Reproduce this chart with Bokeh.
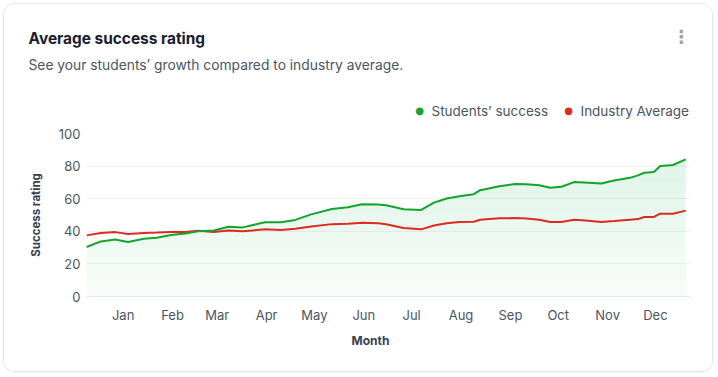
import numpy as np
import pandas as pd
from bokeh.plotting import figure
from bokeh.models import (Label, MonthsTicker, DatetimeTickFormatter, Range1d,
                          SingleIntervalTicker)
from bokeh.layouts import column
from bokeh.embed import file_html
from bokeh.resources import INLINE

# ---------------- data ----------------
dates = ["2022-12-09", "2022-12-18", "2022-12-27", "2023-01-04", "2023-01-14",
         "2023-01-22", "2023-01-31", "2023-02-09", "2023-02-17", "2023-02-27",
         "2023-03-08", "2023-03-17", "2023-03-31", "2023-04-10", "2023-04-19",
         "2023-04-29", "2023-05-12", "2023-05-22", "2023-05-31", "2023-06-10",
         "2023-06-15", "2023-06-26", "2023-07-07", "2023-07-15", "2023-07-23",
         "2023-07-31", "2023-08-09", "2023-08-13", "2023-08-25", "2023-09-04",
         "2023-09-11", "2023-09-19", "2023-09-26", "2023-10-03", "2023-10-11",
         "2023-10-20", "2023-10-28", "2023-11-05", "2023-11-15", "2023-11-20",
         "2023-11-24", "2023-11-30", "2023-12-04", "2023-12-12", "2023-12-20"]

students = [30.4, 33.8, 35.0, 33.5, 35.4, 36.0, 37.7, 38.7, 40.0, 40.5,
            42.8, 42.4, 45.5, 45.5, 47.0, 50.4, 53.7, 54.8, 56.6, 56.4,
            56.0, 53.5, 53.1, 57.6, 60.1, 61.5, 62.8, 65.2, 67.7, 69.0,
            68.8, 68.3, 66.7, 67.3, 70.2, 69.8, 69.3, 71.2, 72.8, 74.3,
            75.9, 76.4, 80.0, 80.7, 84.1]

industry = [37.5, 38.9, 39.5, 38.3, 39.0, 39.2, 39.5, 39.5, 40.3, 39.5,
            40.5, 40.0, 41.2, 40.8, 41.6, 42.9, 44.4, 44.6, 45.2, 44.9,
            44.3, 42.0, 41.2, 43.6, 44.9, 45.7, 45.9, 47.1, 48.0, 48.1,
            47.8, 47.1, 45.7, 45.7, 47.1, 46.5, 45.7, 46.3, 47.1, 47.5,
            48.8, 48.8, 50.8, 50.8, 52.7]

series_names = ["Students\u2019 success", "Industry Average"]
title_text = "Average success rating"
subtitle_text = "See your students\u2019 growth compared to industry average."
y_title = "Success rating"
x_title = "Month"

# ---------------- styles ----------------
GREEN = "#12a42c"
RED = "#dc2b1f"
TEXT = "#4b5563"
DARK = "#1a2030"
AXT = "#374151"
FONT = "Inter"
W = 708


def blank(height):
    f = figure(width=W, height=height, x_range=Range1d(0, W), y_range=Range1d(0, height),
               x_axis_type=None, y_axis_type=None, output_backend="svg",
               toolbar_location=None, min_border=0, frame_align=False)
    f.outline_line_color = None
    f.xgrid.visible = False
    f.ygrid.visible = False
    f.background_fill_color = "white"
    f.border_fill_color = "white"
    return f


def lab(f, xp, yp, text, size, color, style="normal", align="left", font=FONT):
    f.add_layout(Label(x=xp, y=yp, x_units="screen", y_units="screen", text=text,
                       text_font=font, text_font_size=size, text_color=color,
                       text_font_style=style, text_align=align,
                       text_baseline="middle"))


# ---------- header (page y 4..120) ----------
HH = 116
head = blank(HH)
lab(head, 24, 120 - 38, title_text, "15.4px", DARK, "bold")
lab(head, 24, 120 - 64, subtitle_text, "13.8px", TEXT)
lab(head, 677, 120 - 36, "\u22ee", "18px", "#9aa1ad", "bold", "center", "DejaVu Sans")
lab(head, 415, 120 - 110, "\u25cf", "10px", GREEN, align="center", font="DejaVu Sans")
lab(head, 427, 120 - 110, series_names[0], "13.5px", TEXT)
lab(head, 564, 120 - 110, "\u25cf", "10px", RED, align="center", font="DejaVu Sans")
lab(head, 576, 120 - 110, series_names[1], "13.5px", TEXT)

# ---------- chart (page y 120..326) ----------
x = pd.to_datetime(dates)
p = figure(width=W, height=206, x_axis_type="datetime",
           output_backend="svg", toolbar_location=None, frame_align=False,
           x_range=Range1d(pd.Timestamp("2022-12-09"), pd.Timestamp("2023-12-23")),
           y_range=Range1d(0, 100),
           min_border_left=82, min_border_right=22,
           min_border_top=13, min_border_bottom=30)
p.outline_line_color = None
p.background_fill_color = "white"
p.border_fill_color = "white"

# vertical gradient under the students' line (darker towards the top)
s = np.array(students)
p.varea(x=x, y1=np.zeros_like(s), y2=s, fill_color=GREEN, fill_alpha=0.035)
for level in range(10, 90, 10):
    p.varea(x=x, y1=np.minimum(s, level), y2=s, fill_color=GREEN, fill_alpha=0.011)

p.line(x, industry, line_color=RED, line_width=2)
p.line(x, students, line_color=GREEN, line_width=2)

p.xaxis.ticker = MonthsTicker(months=list(range(1, 13)))
p.xaxis.formatter = DatetimeTickFormatter(months="%b", days="%b")
p.yaxis.ticker = SingleIntervalTicker(interval=20)
for ax in (p.xaxis[0], p.yaxis[0]):
    ax.major_tick_line_color = None
    ax.minor_tick_line_color = None
    ax.major_tick_out = 0
    ax.major_tick_in = 0
    ax.minor_tick_out = 0
    ax.major_label_text_font = FONT
    ax.major_label_text_font_size = "13px"
    ax.major_label_text_color = TEXT
p.yaxis.axis_line_color = None
p.xaxis.axis_line_color = "#e6e9ee"
p.yaxis.major_label_standoff = 6
p.xaxis.major_label_standoff = 10
p.yaxis.axis_label = y_title
p.yaxis.axis_label_text_font = FONT
p.yaxis.axis_label_text_font_size = "11.5px"
p.yaxis.axis_label_text_font_style = "bold"
p.yaxis.axis_label_text_color = AXT
p.yaxis.axis_label_standoff = 13

p.xgrid.grid_line_color = None
p.ygrid.grid_line_color = "#f1f2f4"
p.ygrid.grid_line_width = 1

# ---------- footer (page y 326..371) ----------
FH = 45
foot = blank(FH)
lab(foot, 366, 371 - 340, x_title, "12px", AXT, "bold", "center")

layout = column(head, p, foot, spacing=0,
                styles={"border": "1px solid #e3e6ea", "border-radius": "12px",
                        "margin": "3px", "overflow": "hidden",
                        "box-shadow": "0 1px 2px rgba(0,0,0,0.06)"})

open("out.html", "w").write(file_html(layout, INLINE))
